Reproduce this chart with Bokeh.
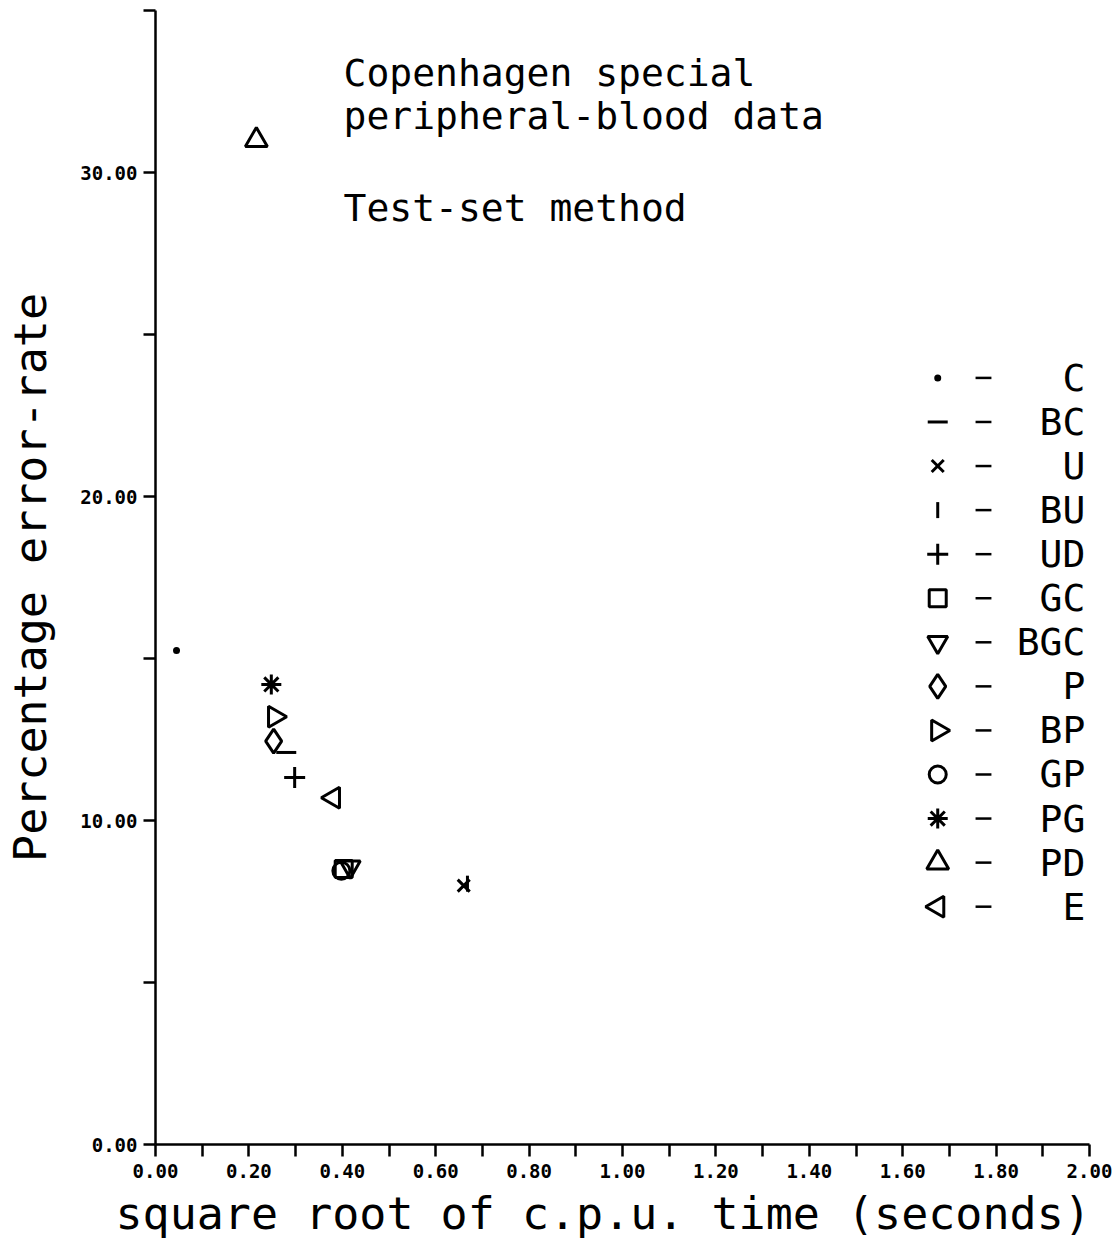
import math
from bokeh.plotting import figure
from bokeh.models import Range1d, FixedTicker, ColumnDataSource, Title
from bokeh.core.properties import value
from bokeh.embed import file_html
from bokeh.resources import INLINE

# Classification methods: square root of c.p.u. time (s) vs. test-set error rate (%)
methods = ["C", "BC", "U", "BU", "UD", "GC", "BGC", "P", "BP", "GP", "PG", "PD", "E"]
sqrt_cpu = [0.045, 0.280, 0.660, 0.668, 0.298, 0.403, 0.417, 0.253, 0.255, 0.398, 0.248, 0.216, 0.381]
error_rate = [15.25, 12.10, 7.99, 8.05, 11.33, 8.50, 8.57, 12.45, 13.20, 8.45, 14.20, 31.0, 10.70]
markers = ["circle", "dash", "x", "dash", "cross", "square", "inverted_triangle",
           "diamond", "triangle", "circle", "asterisk", "triangle", "triangle"]
angles = [0, 0, 0, math.pi / 2, 0, 0, 0, 0, -math.pi / 2, 0, 0, 0, math.pi / 2]
sizes = [4, 20, 17, 16, 21, 17, 20, 24, 21, 17, 20, 22, 21]
fills = ["black"] + [None] * 12

x_ticks = [round(0.1 * i, 1) for i in range(21)]
x_tick_labels = ["%.2f" % t if i % 2 == 0 else "" for i, t in enumerate(x_ticks)]
y_ticks = [0, 5, 10, 15, 20, 25, 30, 35]
y_tick_labels = ["0.00", "", "10.00", "", "20.00", "", "30.00", ""]

title_lines = ["Copenhagen special", "peripheral-blood data", "Test-set method"]
title_baselines = [33.06, 31.73, 28.89]

MONO = "DejaVu Sans Mono"

p = figure(width=1118, height=1246, output_backend="svg", toolbar_location=None,
           x_range=Range1d(0, 2), y_range=Range1d(0, 35),
           min_border_left=155, min_border_right=29, min_border_top=10,
           min_border_bottom=102)
p.outline_line_color = None
p.grid.visible = False
p.background_fill_color = "white"
p.border_fill_color = "white"

for ax in (p.xaxis[0], p.yaxis[0]):
    ax.axis_line_color = "black"
    ax.axis_line_width = 2.5
    ax.major_tick_line_color = "black"
    ax.major_tick_line_width = 2.5
    ax.major_tick_out = 12
    ax.major_tick_in = 0
    ax.minor_tick_line_color = None
    ax.major_label_text_font = MONO
    ax.major_label_text_font_style = "bold"
    ax.major_label_text_font_size = "19px"
    ax.major_label_text_color = "black"
    ax.axis_label_text_font = MONO
    ax.axis_label_text_font_style = "normal"
    ax.axis_label_text_font_size = "45px"
    ax.axis_label_text_color = "black"

p.xaxis.ticker = FixedTicker(ticks=x_ticks)
p.xaxis.major_label_overrides = {t: lab for t, lab in zip(x_ticks, x_tick_labels)}
p.xaxis.major_label_standoff = 7

p.yaxis.ticker = FixedTicker(ticks=y_ticks)
p.yaxis.major_label_overrides = {t: lab for t, lab in zip(y_ticks, y_tick_labels)}
p.yaxis.major_label_orientation = "horizontal"
p.yaxis.major_label_standoff = 6
p.yaxis.axis_label = "Percentage error-rate"
p.yaxis.axis_label_standoff = 20

# x-axis title, starting a little left of the frame edge
p.add_layout(Title(text="square root of c.p.u. time (seconds)", align="left",
                   offset=-40, standoff=8, text_font=MONO, text_font_size="45px",
                   text_font_style="normal", text_color="black"), "below")

# data points
src = ColumnDataSource(dict(x=sqrt_cpu, y=error_rate, marker=markers, angle=angles,
                            size=sizes, fill=fills, name=methods))
p.scatter(x="x", y="y", marker="marker", angle="angle", size="size", source=src,
          fill_color="fill", line_color="black", line_width=3)

# key: symbol, dash, method name (right-aligned), one row per method
key_x = 1.675
key_dash = (1.756, 1.790)
key_text_x = 1.991
key_top = 23.66
key_step = 1.36
n = len(methods)
key_y = [key_top - key_step * i for i in range(n)]
key_src = ColumnDataSource(dict(x=[key_x] * n, y=key_y, marker=markers, angle=angles,
                                size=sizes, fill=fills, name=methods,
                                x0=[key_dash[0]] * n, x1=[key_dash[1]] * n,
                                tx=[key_text_x] * n))
p.scatter(x="x", y="y", marker="marker", angle="angle", size="size", source=key_src,
          fill_color="fill", line_color="black", line_width=3)
p.segment(x0="x0", y0="y", x1="x1", y1="y", source=key_src,
          line_color="black", line_width=2.5)
p.text(x="tx", y="y", text="name", source=key_src, text_font=value(MONO),
       text_font_size="38px", text_align="right", text_baseline="middle",
       text_color="black")

# annotation block
p.text(x=[0.4026] * 3, y=title_baselines, text=title_lines, text_font=value(MONO),
       text_font_size="38px", text_align="left", text_baseline="alphabetic",
       text_color="black")

open("out.html", "w").write(file_html(p, INLINE))
